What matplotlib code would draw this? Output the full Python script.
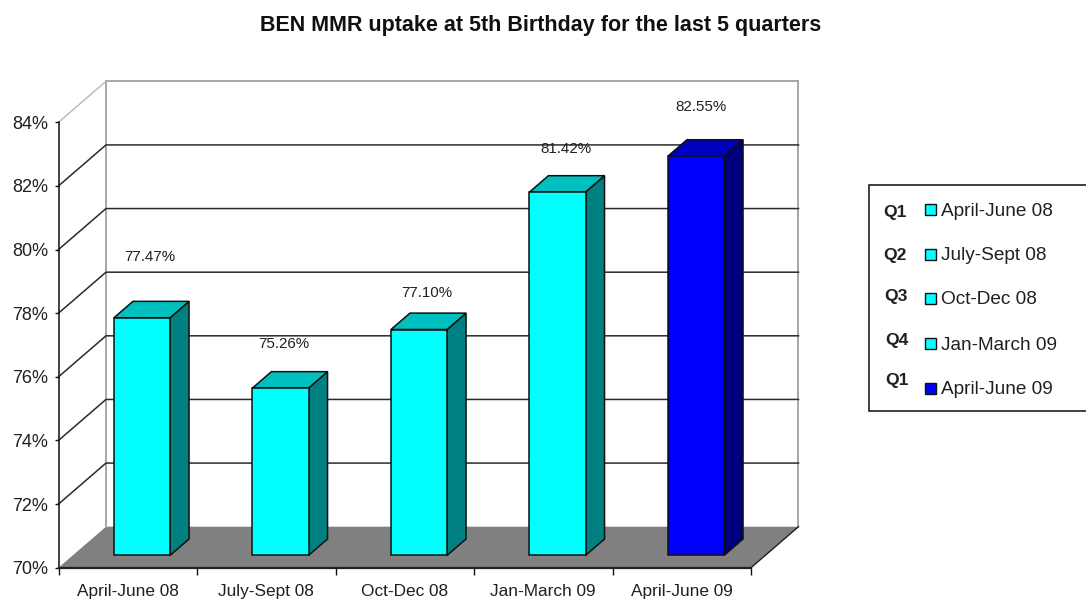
import matplotlib
matplotlib.use("Agg")
import matplotlib.pyplot as plt
from matplotlib.patches import Polygon, Rectangle
from matplotlib.ticker import FuncFormatter

plt.rcParams['font.family'] = ['Liberation Sans', 'DejaVu Sans']

# --- data ---
categories = ["April-June 08", "July-Sept 08", "Oct-Dec 08", "Jan-March 09", "April-June 09"]
values = [77.47, 75.26, 77.10, 81.42, 82.55]
y_ticks = [70, 72, 74, 76, 78, 80, 82, 84]
quarters = ["Q1", "Q2", "Q3", "Q4", "Q1"]
title = "BEN MMR uptake at 5th Birthday for the last 5 quarters"

# --- styles / layout (pixels in a 1086x602 figure) ---
W, H = 1086, 602
AX_L, AX_R, AX_B, AX_T = 58.5, 751.0, 567.7, 122.3
DEPTH_X, DEPTH_Y = 47.5, 41.0      # wall depth, pixels
BAR_START, BAR_DEPTH = 0.30, 0.40  # fractions of the depth
BAR_W = 0.405                      # fraction of a category
front = ["#00FFFF"] * 4 + ["#0000FF"]
top = ["#00BFBF"] * 4 + ["#0000BF"]
side = ["#008080"] * 4 + ["#00007F"]
swatch = ["#00FFFF"] * 4 + ["#0000FF"]
label_offsets = [(8, 61), (3, 44), (8, 37), (8, 43), (5, 49)]
q_x = [883, 883, 884, 885, 885]
q_y = [212, 255, 297, 340, 381]
leg_y = [211, 256, 300, 345, 390]
swatch_y = [209, 254, 298, 343, 388]

fig = plt.figure(figsize=(W / 100, H / 100), dpi=100, facecolor="white")
ax = fig.add_axes([AX_L / W, 1 - AX_B / H, (AX_R - AX_L) / W, (AX_B - AX_T) / H])
ax.set_facecolor("none")
ax.set_xlim(-0.5, len(categories) - 0.5)
ax.set_ylim(y_ticks[0], y_ticks[-1])

ux = (AX_R - AX_L) / len(categories)   # px per category
uy = (AX_B - AX_T) / (y_ticks[-1] - y_ticks[0])  # px per y unit
dx = DEPTH_X / ux
dy = DEPTH_Y / uy
x0, x1 = ax.get_xlim()
y0, y1 = ax.get_ylim()

# floor
ax.add_patch(Polygon([(x0, y0), (x1, y0), (x1 + dx, y0 + dy), (x0 + dx, y0 + dy)],
                     closed=True, fc="#808080", ec="none", clip_on=False, zorder=1))
# walls
wall = "#A0A0A0"
ax.plot([x0 + dx, x0 + dx], [y0 + dy, y1 + dy], color=wall, lw=1.3, clip_on=False, zorder=1.5)
ax.plot([x1 + dx, x1 + dx], [y0 + dy, y1 + dy], color=wall, lw=1.3, clip_on=False, zorder=1.5)
ax.plot([x0 + dx, x1 + dx], [y1 + dy, y1 + dy], color=wall, lw=1.3, clip_on=False, zorder=1.5)
ax.plot([x0, x0 + dx], [y1, y1 + dy], color="#B8B8B8", lw=1.0, clip_on=False, zorder=1.5)
ax.plot([x1, x1 + dx], [y0, y0 + dy], color="#202020", lw=1.0, clip_on=False, zorder=1.5)
# gridlines
for t in y_ticks[1:-1]:
    ax.plot([x0, x0 + dx, x1 + dx], [t, t + dy, t + dy], color="#2A2A2A", lw=1.1,
            clip_on=False, zorder=2)

# bars
for i, (v, f, tp, s) in enumerate(zip(values, front, top, side)):
    xl = i - BAR_W * 0.5 + BAR_START * dx
    xr = xl + BAR_W
    yb = y0 + BAR_START * dy
    yt = v + BAR_START * dy
    ex, ey = BAR_DEPTH * dx, BAR_DEPTH * dy
    kw = dict(ec="#101010", lw=1.1, clip_on=False, zorder=3, joinstyle="miter")
    ax.add_patch(Polygon([(xr, yb), (xr + ex, yb + ey), (xr + ex, yt + ey), (xr, yt)], closed=True, fc=s, **kw))
    ax.add_patch(Polygon([(xl, yt), (xr, yt), (xr + ex, yt + ey), (xl + ex, yt + ey)], closed=True, fc=tp, **kw))
    ax.add_patch(Rectangle((xl, yb), BAR_W, yt - yb, fc=f, **kw))
    ax.annotate(f"{v:.2f}%", xy=((xl + xr) / 2, yt), xycoords="data",
                xytext=(label_offsets[i][0] * 0.72, label_offsets[i][1] * 0.72),
                textcoords="offset points", ha="center", va="center",
                fontsize=10.9, color="#202020", zorder=5, annotation_clip=False)

# axes
for name in ("top", "right"):
    ax.spines[name].set_visible(False)
ax.spines["left"].set_color("#101010")
ax.spines["bottom"].set_color("#202020")
ax.spines["left"].set_linewidth(1.1)
ax.spines["bottom"].set_linewidth(1.6)
ax.spines["left"].set_zorder(4)
ax.spines["bottom"].set_zorder(4)
ax.set_yticks(y_ticks)
ax.yaxis.set_major_formatter(FuncFormatter(lambda v, p: f"{v:.0f}%"))
ax.tick_params(axis="y", length=3, width=1.0, color="#101010", labelsize=13,
               labelcolor="#202020", pad=4.5)
ax.set_xticks([k - 0.5 for k in range(len(categories) + 1)])
ax.set_xticklabels([])
ax.tick_params(axis="x", which="major", length=5, width=1.0, color="#101010")
ax.set_xticks(range(len(categories)), minor=True)
ax.set_xticklabels(categories, minor=True, fontsize=12.4, color="#202020")
ax.tick_params(axis="x", which="minor", length=0, pad=12)

# title
fig.text(540.5 / W, 1 - 25 / H, title, ha="center", va="center", fontsize=15.5,
         fontweight="bold", color="#101010")

# legend (figure pixels)
def fx(p):
    return p / W

def fy(p):
    return 1 - p / H

fig.add_artist(Rectangle((fx(868.5), fy(411)), fx(W + 5 - 868.5), 226.5 / H, transform=fig.transFigure,
                         fc="white", ec="#202020", lw=1.2))
for q, qx, qy, ly, sy, sw, cat in zip(quarters, q_x, q_y, leg_y, swatch_y, swatch, categories):
    fig.text(fx(qx), fy(qy), q, ha="left", va="center", fontsize=12.6, fontweight="bold", color="#202020")
    fig.add_artist(Rectangle((fx(924.5), fy(sy + 5.5)), 11 / W, 11 / H, transform=fig.transFigure,
                             fc=sw, ec="#101010", lw=1.0))
    fig.text(fx(941), fy(ly), cat, ha="left", va="center", fontsize=13.7, color="#202020")

fig.savefig("out.png", dpi=100)
